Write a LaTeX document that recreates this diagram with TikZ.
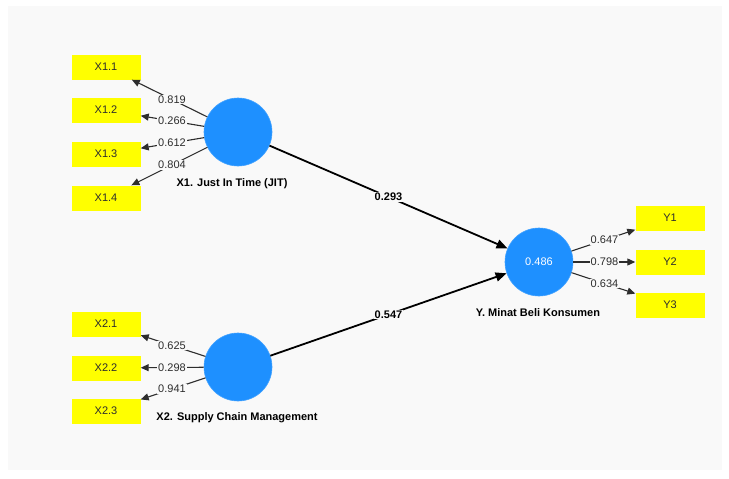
\documentclass[tikz,border=0pt]{standalone}
\usepackage{fontspec}
\setmainfont{Liberation Sans}
\usetikzlibrary{arrows.meta,calc}
\definecolor{panel}{RGB}{249,249,249}
\definecolor{lv}{RGB}{30,144,255}
\definecolor{mv}{RGB}{255,255,0}
\definecolor{ink}{RGB}{45,45,45}
\begin{document}
\begin{tikzpicture}[x=1pt,y=-1pt,
  ind/.style={rectangle, fill=mv, minimum width=69pt, minimum height=25pt, inner sep=0pt, text=ink, font=\fontsize{11}{13}\selectfont},
  lat/.style={circle, fill=lv, draw=lv!85!white, line width=0.6pt, minimum size=68pt, inner sep=0pt},
  load/.style={draw=ink, line width=1.1pt, -{Triangle[length=8pt,width=7pt]}},
  val/.style={fill=panel, inner sep=1pt, text=ink, font=\fontsize{11}{13}\selectfont},
  pathval/.style={fill=panel, inner sep=1pt, text=black, font=\bfseries\fontsize{11}{13}\selectfont},
  pth/.style={draw=black, line width=1.8pt, -{Triangle[length=11pt,width=9pt]}},
  lvcaption/.style={text=black, font=\bfseries\fontsize{11}{13}\selectfont}]
\useasboundingbox (0,0) rectangle (729,479);
\fill[white] (0,0) rectangle (729,479);
\fill[panel] (8,6) rectangle (722,470);

% latent variables
\node[lat] (X1) at (238,132) {};
\node[lat] (X2) at (238,367) {};
\node[lat, text=white, font=\fontsize{11}{13}\selectfont] (Y) at (539,262) {0.486};

% indicators
\node[ind] (X11) at (106,67) {X1.1};
\node[ind] (X12) at (106,110) {X1.2};
\node[ind] (X13) at (106,154) {X1.3};
\node[ind] (X14) at (106,198) {X1.4};
\node[ind] (X21) at (106,324) {X2.1};
\node[ind] (X22) at (106,368) {X2.2};
\node[ind] (X23) at (106,411) {X2.3};
\node[ind] (Y1) at (670,218) {Y1};
\node[ind] (Y2) at (670,262) {Y2};
\node[ind] (Y3) at (670,305) {Y3};

% captions
\node[lvcaption] (c1) at (232,184) {X1. Just In Time (JIT)};
\node[lvcaption] (c2) at (237,418) {X2. Supply Chain Management};
\node[lvcaption] (c3) at (538,313) {Y. Minat Beli Konsumen};

% loadings
\foreach \a/\b/\v in {X1/X11/0.819, X1/X12/0.266, X1/X13/0.612, X1/X14/0.804,
                      X2/X21/0.625, X2/X22/0.298, X2/X23/0.941,
                      Y/Y1/0.647, Y/Y2/0.798, Y/Y3/0.634}{
  \draw[load] (\a) -- (\b);
  \node[val] at ($(\a)!0.5!(\b)$) {\v};
}

% structural paths
\draw[pth] (X1) -- (Y);
\draw[pth] (X2) -- (Y);
\node[pathval] (p1) at ($(X1)!0.5!(Y)$) {0.293};
\node[pathval] (p2) at ($(X2)!0.5!(Y)$) {0.547};
\end{tikzpicture}
\end{document}
